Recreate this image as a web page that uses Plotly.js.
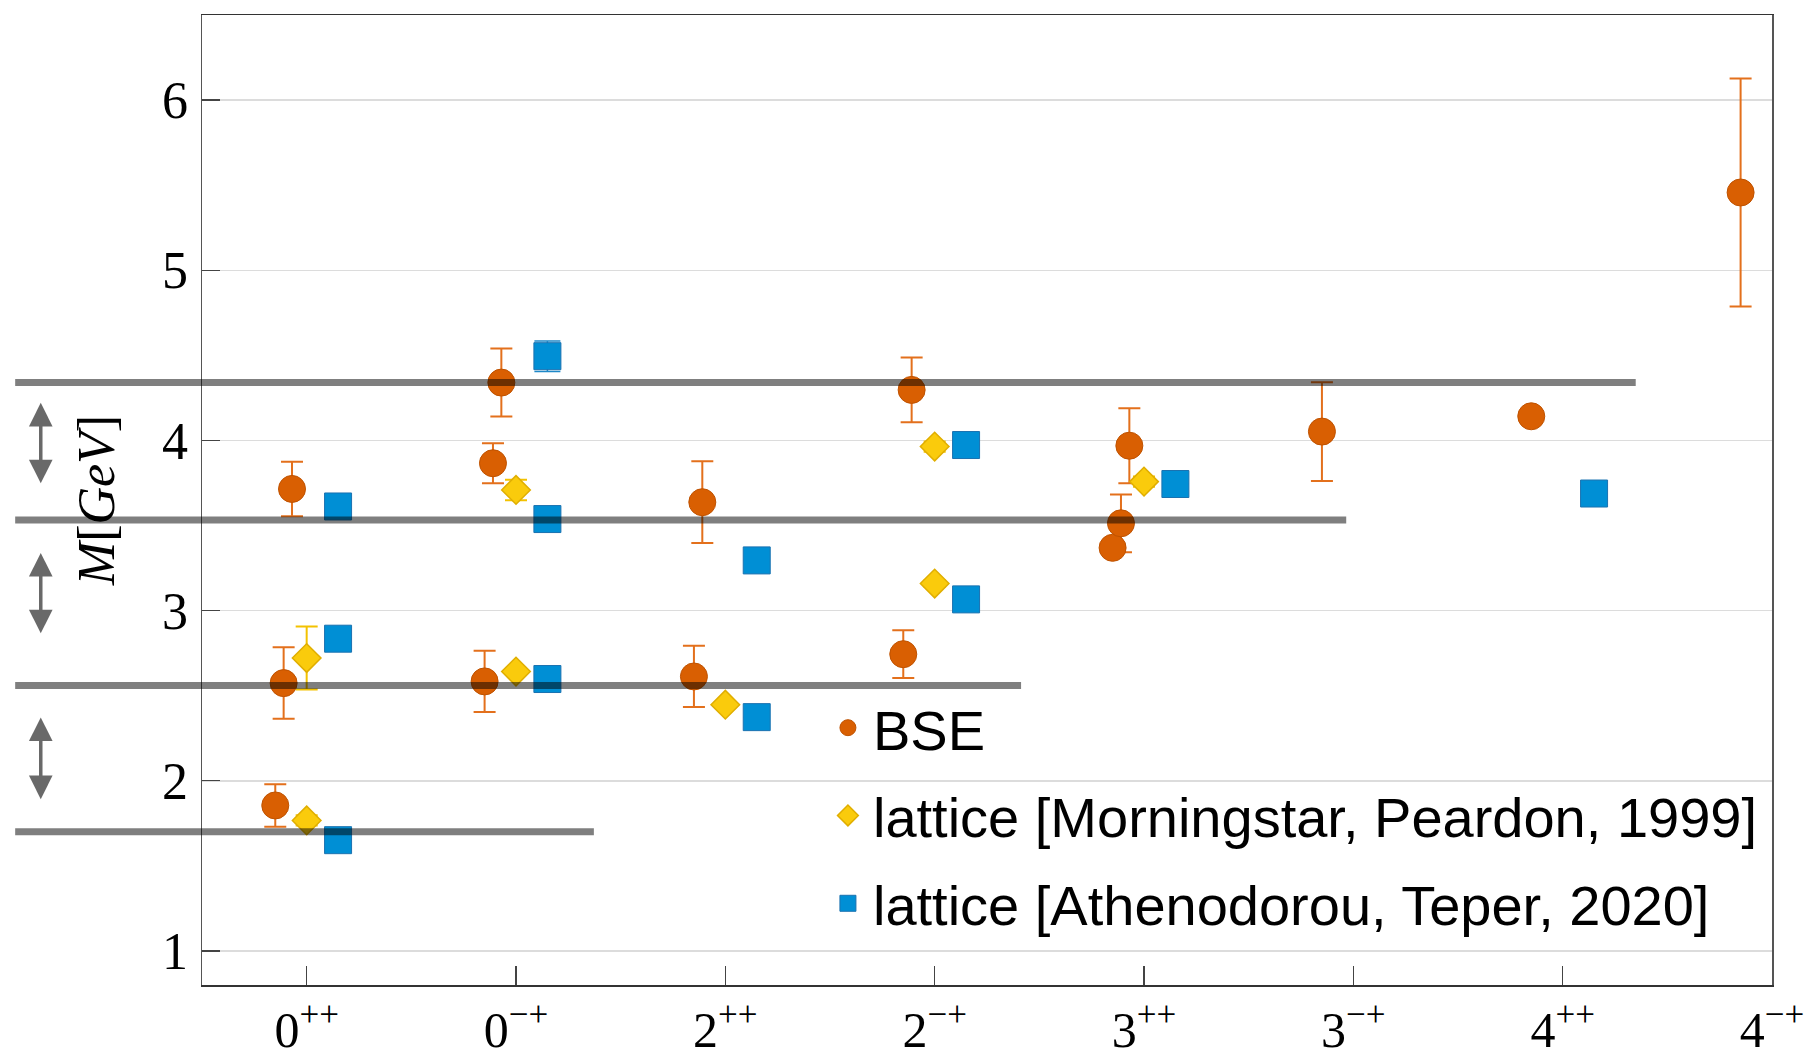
<!DOCTYPE html>
<html>
<head>
<meta charset="utf-8">
<script src="https://cdn.plot.ly/plotly-3.0.1.min.js"></script>
<style>
  html, body { margin: 0; padding: 0; background: #ffffff; }
  #chart { width: 1815px; height: 1049px; }
</style>
</head>
<body>
<div id="chart"></div>
<script>
// ---------- data ----------
const categoryLabels = ["0<sup>++</sup>", "0<sup>\u2212+</sup>", "2<sup>++</sup>", "2<sup>\u2212+</sup>",
                        "3<sup>++</sup>", "3<sup>\u2212+</sup>", "4<sup>++</sup>", "4<sup>\u2212+</sup>"];
const categoryIndex = [0, 1, 2, 3, 4, 5, 6, 7];

// BSE (category index, excitation level within channel, mass, error)
const bseCat   = [0, 0, 0, 1, 1, 1, 2, 2, 3, 3, 4, 4, 4, 5, 6, 7];
const bseLevel = [0, 1, 2, 0, 1, 2, 0, 1, 0, 1, 0, 1, 2, 0, 0, 0];
const bseMass  = [1.855, 2.574, 3.715, 2.584, 3.866, 4.340, 2.613, 3.637, 2.744, 4.297, 3.369, 3.513, 3.969, 4.052, 4.142, 5.457];
const bseErr   = [0.125, 0.21, 0.16, 0.18, 0.117, 0.20, 0.18, 0.24, 0.14, 0.19, 0.0, 0.17, 0.22, 0.29, 0.0, 0.67];

// lattice [Morningstar, Peardon, 1999]
const mpCat  = [0, 0, 1, 1, 2, 3, 3, 4];
const mpMass = [1.767, 2.721, 2.642, 3.709, 2.447, 3.159, 3.964, 3.758];
const mpErr  = [0.03, 0.185, 0.02, 0.06, 0.015, 0.02, 0.03, 0.03];

// lattice [Athenodorou, Teper, 2020]
const atCat  = [0, 0, 0, 1, 1, 1, 2, 2, 3, 3, 4, 6];
const atMass = [1.651, 2.835, 3.612, 2.598, 3.538, 4.495, 2.374, 3.295, 3.066, 3.973, 3.744, 3.688];
const atErr  = [0, 0, 0, 0, 0, 0.09, 0, 0, 0, 0, 0, 0];

// multi-particle thresholds (gray lines) in GeV
const thresholds = [1.70, 2.56, 3.533, 4.34];

// ---------- derived positions ----------
const bseX = bseCat.map((c, i) => c - 0.15 + 0.04 * bseLevel[i]);
const mpX  = mpCat.slice();
const atX  = atCat.map(c => c + 0.15);

const traces = [
  {
    type: 'scatter', mode: 'markers', name: 'BSE', legendgroup: 'a',
    x: bseX, y: bseMass,
    error_y: { type: 'data', array: bseErr, visible: true, color: '#E3701C', thickness: 2, width: 11 },
    marker: { symbol: 'circle', size: 27, color: '#D95F02', line: { color: '#BF5200', width: 1 } }
  },
  {
    type: 'scatter', mode: 'markers', name: 'lattice [Morningstar, Peardon, 1999]', legendgroup: 'b',
    x: mpX, y: mpMass,
    error_y: { type: 'data', array: mpErr, visible: true, color: '#F3C200', thickness: 2, width: 11 },
    marker: { symbol: 'diamond', size: 22, color: '#FACB0C', line: { color: '#E0AE00', width: 1.5 } }
  },
  {
    type: 'scatter', mode: 'markers', name: 'lattice [Athenodorou, Teper, 2020]', legendgroup: 'c',
    x: atX, y: atMass,
    error_y: { type: 'data', array: atErr, visible: true, color: '#1E88C8', thickness: 1.5, width: 13 },
    marker: { symbol: 'square', size: 27, color: '#008FD5', line: { color: '#1A72B0', width: 1 } }
  }
];

// threshold lines (drawn over the markers, extending left outside the frame)
const thresholdEndPaper = [0.2496, 0.5217, 0.7288, 0.9132];
const shapes = thresholds.map((t, i) => ({
  type: 'line', xref: 'paper', yref: 'y', layer: 'above',
  x0: -0.119, x1: thresholdEndPaper[i], y0: t, y1: t,
  line: { color: 'rgba(0,0,0,0.5)', width: 7 }
}));

// double-headed arrows between neighbouring thresholds
const arrowSpans = [[4.221, 3.739], [3.339, 2.858], [2.372, 1.883]];
const annotations = arrowSpans.map(s => ({
  xref: 'paper', yref: 'y', x: -0.1027, y: s[0],
  axref: 'pixel', ayref: 'y', ax: 0, ay: s[1],
  text: '', showarrow: true, arrowside: 'end+start',
  arrowhead: 2, startarrowhead: 2, arrowsize: 1.35, startarrowsize: 1.35, arrowwidth: 3.5,
  arrowcolor: 'rgba(80,80,80,0.85)', standoff: 0, startstandoff: 0
}));

const serif = 'Liberation Serif, "DejaVu Serif", serif';

const layout = {
  width: 1815, height: 1049,
  margin: { l: 202, r: 43, t: 15, b: 64, pad: 0 },
  paper_bgcolor: '#ffffff', plot_bgcolor: '#ffffff',
  showlegend: true,
  legend: {
    x: 0.3955, xanchor: 'left', y: 0.3095, yanchor: 'top',
    bgcolor: 'rgba(0,0,0,0)', borderwidth: 0,
    font: { family: 'Liberation Sans, Arial, sans-serif', size: 56, color: '#000000' },
    traceorder: 'grouped', tracegroupgap: 12, itemsizing: 'trace', itemwidth: 40
  },
  xaxis: {
    range: [-0.5, 7], tickmode: 'array', tickvals: categoryIndex, ticktext: categoryLabels,
    ticks: 'inside', ticklen: 19, tickwidth: 1.2, tickcolor: '#444',
    showgrid: false, zeroline: false,
    showline: true, linecolor: '#333', linewidth: 1.5, mirror: true,
    tickfont: { family: serif, size: 50, color: '#000' },
    ticklabelstandoff: 0
  },
  yaxis: {
    range: [0.8, 6.5], tickvals: [1, 2, 3, 4, 5, 6],
    ticks: 'inside', ticklen: 18, tickwidth: 1.2, tickcolor: '#444',
    showgrid: true, gridcolor: '#dcdcdc', gridwidth: 1.5, zeroline: false,
    showline: true, linecolor: '#555', linewidth: 1.5, mirror: true,
    tickfont: { family: serif, size: 52, color: '#000' },
    ticklabelstandoff: 2,
    title: { text: '<i>M</i>[<i>GeV</i>]', font: { family: serif, size: 52, color: '#000' }, standoff: 31 }
  },
  shapes: shapes,
  annotations: annotations
};

Plotly.newPlot('chart', traces, layout, { displayModeBar: false, staticPlot: true });
</script>
</body>
</html>
